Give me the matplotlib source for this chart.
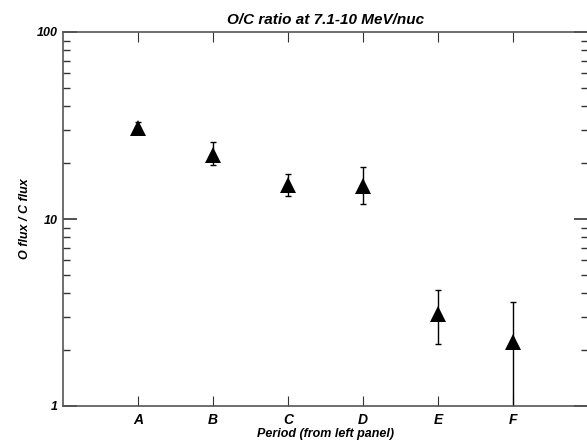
import numpy as np
import matplotlib
matplotlib.use("Agg")
import matplotlib.pyplot as plt
from matplotlib.ticker import LogLocator, NullFormatter, FixedLocator

# O/C ratio per period
periods = ["A", "B", "C", "D", "E", "F"]
ratio = [30.5, 22.0, 15.2, 15.1, 3.1, 2.2]
err_low = [28.5, 19.4, 13.3, 12.0, 2.15, 0.5]
err_high = [33.0, 25.7, 17.5, 19.0, 4.15, 3.6]

plt.rcParams["font.family"] = ["Liberation Sans", "DejaVu Sans"]
plt.rcParams["font.weight"] = "bold"
plt.rcParams["font.style"] = "italic"

fig = plt.figure(figsize=(5.87, 4.45), dpi=100)
ax = fig.add_axes([63 / 587, 39 / 445, 525 / 587, 374 / 445])

x = np.arange(1, len(periods) + 1)
y = np.array(ratio)
yerr = [y - np.array(err_low), np.array(err_high) - y]

ax.errorbar(x, y, yerr=yerr, fmt="none", ecolor="black", elinewidth=1.0,
            capsize=2.5, capthick=1.0, zorder=2)
ax.plot(x, y, "^", color="black", markersize=12, markeredgewidth=0, zorder=3)

ax.set_yscale("log")
ax.set_ylim(1, 100)
ax.set_xlim(0, 7)

ax.xaxis.set_major_locator(FixedLocator(x))
ax.set_xticklabels(periods)
ax.yaxis.set_minor_locator(LogLocator(base=10, subs=np.arange(2, 10), numticks=10))
ax.yaxis.set_minor_formatter(NullFormatter())
ax.set_yticks([1, 10, 100])
ax.set_yticklabels(["1", "10", "100"])

for s in ax.spines.values():
    s.set_color("#555555")
    s.set_linewidth(1.2)

ax.tick_params(which="both", direction="in", top=True, right=True, colors="#333333",
               labelcolor="black", labelsize=9, pad=4)
ax.tick_params(axis="x", which="major", length=7, labelsize=10, pad=5)
ax.tick_params(axis="y", which="major", length=10, width=1.2)
ax.tick_params(axis="y", which="minor", length=5, width=1.0)

for lab in ax.get_xticklabels() + ax.get_yticklabels():
    lab.set_fontweight("bold")
    lab.set_fontstyle("italic")

ax.set_title("O/C ratio at 7.1-10 MeV/nuc", fontsize=11, fontweight="bold",
             fontstyle="italic", pad=6)
ax.set_xlabel("Period (from left panel)", fontsize=9, fontweight="bold",
              fontstyle="italic", labelpad=0.5)
ax.set_ylabel("O flux / C flux", fontsize=9, fontweight="bold",
              fontstyle="italic", labelpad=4)

fig.savefig("out.png", dpi=100)
